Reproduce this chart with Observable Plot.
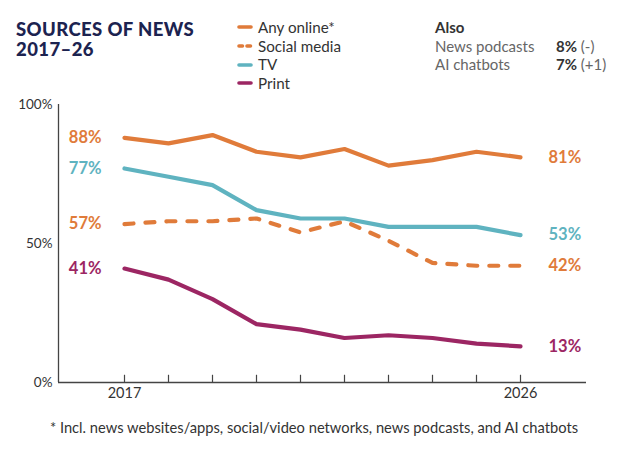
<!DOCTYPE html>
<html>
<head>
<meta charset="utf-8">
<script src="https://cdn.jsdelivr.net/npm/d3@7"></script>
<script src="https://cdn.jsdelivr.net/npm/@observablehq/plot@0.6"></script>
<style>
  html, body { margin: 0; padding: 0; background: #fff; }
  body { width: 624px; height: 454px; position: relative; overflow: hidden; font-family: Lato, "Open Sans", sans-serif; }
  .abs { position: absolute; white-space: nowrap; }
  #title { left: 16px; top: 20px; font-size: 18.5px; line-height: 18.5px; font-weight: 900; letter-spacing: 0.4px; color: #1c2350; }
  #subtitle { left: 16px; top: 40px; font-size: 18.5px; line-height: 18.5px; font-weight: 900; letter-spacing: 0.4px; color: #1c2350; }
  #legend { left: 237px; top: 18px; font-size: 15.2px; line-height: 18.7px; color: #333; }
  #legend .row { display: flex; align-items: center; height: 18.7px; }
  #legend svg { width: 16px; height: 6px; margin-right: 5px; }
  #also { left: 435px; top: 18px; font-size: 15px; line-height: 18.7px; color: #666; }
  #also .row { position: relative; height: 18.7px; }
  #also .v { position: absolute; left: 121px; }
  #also b { color: #333; }
  #foot { left: 0; width: 628px; text-align: center; top: 418px; font-size: 14.7px; line-height: 18px; color: #333; }
  #chart { position: absolute; left: 0; top: 90px; }
</style>
</head>
<body>
<div id="title" class="abs">SOURCES OF NEWS</div>
<div id="subtitle" class="abs">2017–26</div>
<div id="legend" class="abs"></div>
<div id="also" class="abs"></div>
<div id="foot" class="abs"></div>
<div id="chart"></div>
<script>
// ---- data ----
const years = [2017, 2018, 2019, 2020, 2021, 2022, 2023, 2024, 2025, 2026];
const anyOnline   = [88, 86, 89, 83, 81, 84, 78, 80, 83, 81];
const socialMedia = [57, 58, 58, 59, 54, 58, 51, 43, 42, 42];
const tv          = [77, 74, 71, 62, 59, 59, 56, 56, 56, 53];
const print       = [41, 37, 30, 21, 19, 16, 17, 16, 14, 13];
const seriesNames = ["Any online*", "Social media", "TV", "Print"];
const seriesColors = ["#e07b3a", "#e07b3a", "#5fb3c0", "#9c2663"];
const seriesDashed = [false, true, false, false];
const alsoLabels = ["News podcasts", "AI chatbots"];
const alsoValues = ["8%", "7%"];
const alsoChanges = ["(-)", "(+1)"];
const yTicks = [0, 50, 100];
const xLabelTicks = [2017, 2026];
const footnote = "* Incl. news websites/apps, social/video networks, news podcasts, and AI chatbots";

const seriesValues = [anyOnline, socialMedia, tv, print];
const series = seriesNames.map((name, i) => ({
  name, color: seriesColors[i], dashed: seriesDashed[i],
  data: years.map((year, j) => ({ year, value: seriesValues[i][j] }))
}));

// ---- legend / header ----
const legend = document.getElementById("legend");
series.forEach(s => {
  const row = document.createElement("div");
  row.className = "row";
  row.innerHTML = `<svg viewBox="0 0 16 6"><line x1="2" y1="3" x2="14" y2="3" stroke="${s.color}" stroke-width="3.6" stroke-linecap="round" ${s.dashed ? 'stroke-dasharray="3.5,4.5"' : ''}/></svg><span>${s.name}</span>`;
  legend.appendChild(row);
});
const also = document.getElementById("also");
also.innerHTML = `<div class="row"><b>Also</b></div>` + alsoLabels.map((l, i) =>
  `<div class="row"><span>${l}</span><span class="v"><b>${alsoValues[i]}</b> ${alsoChanges[i]}</span></div>`).join("");
document.getElementById("foot").textContent = footnote;

// ---- chart ----
const lineMarks = series.map(s => Plot.line(s.data, {
  x: "year", y: "value", stroke: s.color, strokeWidth: 4.2,
  strokeLinecap: "round", strokeLinejoin: "round",
  strokeDasharray: s.dashed ? "9,12" : null
}));
const startLabels = series.map(s => Plot.text([s.data[0]], {
  x: "year", y: "value", text: d => d.value + "%", fill: s.color,
  textAnchor: "end", dx: -23, fontSize: 16.5, fontWeight: 700
}));
const endLabels = series.map(s => Plot.text([s.data[s.data.length - 1]], {
  x: "year", y: "value", text: d => d.value + "%", fill: s.color,
  textAnchor: "start", dx: 28, fontSize: 16.5, fontWeight: 700
}));

const chart = Plot.plot({
  width: 624, height: 320,
  marginTop: 14, marginBottom: 28, marginLeft: 58, marginRight: 38,
  style: { fontFamily: "Lato, 'Open Sans', sans-serif", fontSize: "12px", color: "#333", background: "transparent", overflow: "visible" },
  x: { domain: [2015.5, 2027.5] },
  y: { domain: [0, 100] },
  marks: [
    Plot.axisY({ ticks: yTicks, tickSize: 0, tickPadding: 6, tickFormat: d => d + "%", fontSize: 13.5, label: null }),
    Plot.axisX({ ticks: xLabelTicks, tickSize: 0, tickPadding: 5, tickFormat: d => String(d), fontSize: 14.5, label: null }),
    Plot.ruleX(years, { x: d => d, y1: 0, y2: 2.6, stroke: "#444", strokeWidth: 1.2 }),
    Plot.ruleX([2015.5], { y1: 0, y2: 100, stroke: "#444", strokeWidth: 1.3 }),
    Plot.ruleY([0], { stroke: "#444", strokeWidth: 1.5 }),
    ...lineMarks,
    ...startLabels,
    ...endLabels
  ]
});
document.getElementById("chart").appendChild(chart);
</script>
</body>
</html>
